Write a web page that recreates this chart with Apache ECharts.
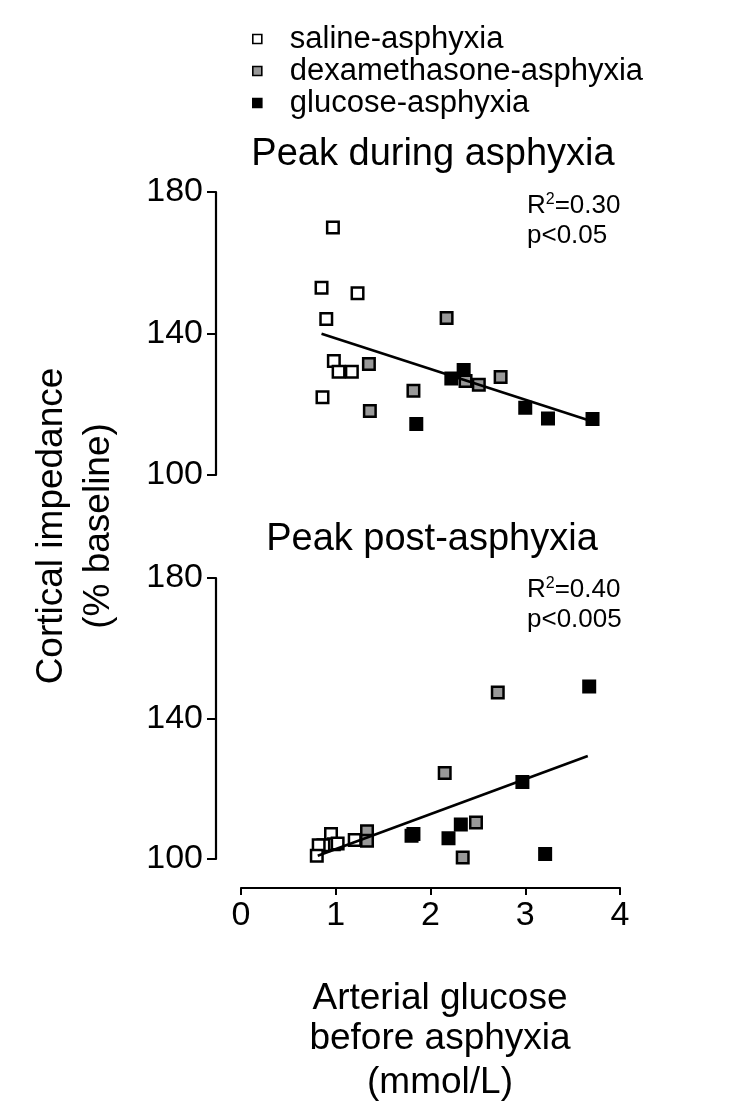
<!DOCTYPE html>
<html>
<head>
<meta charset="utf-8">
<script src="https://cdn.jsdelivr.net/npm/echarts@6/dist/echarts.min.js"></script>
<style>html,body{margin:0;padding:0;background:#fff}#c{width:732px;height:1113px}</style>
</head>
<body>
<div id="c"></div>
<script>
// ---- Data ----
const groupNames = ['saline-asphyxia', 'dexamethasone-asphyxia', 'glucose-asphyxia'];
const panelTitles = ['Peak during asphyxia', 'Peak post-asphyxia'];
const xTicks = [0, 1, 2, 3, 4];
const yTicks = [100, 140, 180];

// Panel 1: peak during asphyxia
const duringSalineX = [0.97, 0.85, 1.23, 0.90, 0.98, 1.03, 1.17, 0.86];
const duringSalineY = [170.0, 152.9, 151.4, 144.1, 132.2, 129.2, 129.2, 122.0];
const duringDexX = [2.17, 1.35, 2.74, 1.82, 1.36, 2.37, 2.51];
const duringDexY = [144.4, 131.4, 127.7, 123.8, 118.1, 126.6, 125.5];
const duringGluX = [1.85, 2.22, 2.35, 3.00, 3.24, 3.71];
const duringGluY = [114.4, 127.3, 129.7, 119.0, 116.0, 115.8];
const duringFitX = [0.85, 3.71];
const duringFitY = [139.9, 115.1];
const duringStats = ['0.30', 'p<0.05'];

// Panel 2: peak post-asphyxia
const postSalineX = [0.95, 0.98, 0.87, 0.82, 0.80, 1.20, 1.14, 1.02];
const postSalineY = [107.1, 104.2, 103.9, 103.9, 100.9, 105.4, 99.6, 104.4];
const postDexX = [2.71, 2.15, 2.48, 2.34, 1.80, 1.33, 1.33];
const postDexY = [147.4, 124.5, 110.4, 100.4, 106.6, 107.9, 105.2];
const postGluX = [3.675, 2.97, 2.32, 2.19, 1.82, 3.21];
const postGluY = [149.1, 121.9, 109.8, 105.9, 107.1, 101.4];
const postFitX = [0.81, 3.66];
const postFitY = [100.9, 129.3];
const postStats = ['0.40', 'p<0.005'];

const yTitleLines = ['Cortical impedance', '(% baseline)'];
const xTitleLines = ['Arterial glucose', 'before asphyxia', '(mmol/L)'];

// ---- Helpers ----
const FONT = 'Liberation Sans, Arial, Helvetica, sans-serif';
const fills = ['#ffffff', '#999999', '#000000'];
const zip = (xs, ys) => xs.map((x, i) => [x, ys[i]]);

const panels = [
  { groups: [[duringSalineX, duringSalineY], [duringDexX, duringDexY], [duringGluX, duringGluY]], fit: [duringFitX, duringFitY] },
  { groups: [[postSalineX, postSalineY], [postDexX, postDexY], [postGluX, postGluY]], fit: [postFitX, postFitY] }
];

const series = [];
panels.forEach((p, pi) => {
  p.groups.forEach((g, gi) => {
    series.push({
      type: 'scatter', name: groupNames[gi], xAxisIndex: pi, yAxisIndex: pi,
      symbol: 'rect', symbolSize: 11.5,
      itemStyle: { color: fills[gi], borderColor: '#000', borderWidth: 2.5, opacity: 1 },
      data: zip(g[0], g[1]), z: 2 + gi, silent: true
    });
  });
  series.push({
    type: 'line', xAxisIndex: pi, yAxisIndex: pi, symbol: 'none',
    lineStyle: { color: '#000', width: 2.6 }, data: zip(p.fit[0], p.fit[1]), z: 6, silent: true
  });
});

const yAxisCommon = (gi) => ({
  gridIndex: gi, type: 'value', min: yTicks[0], max: yTicks[yTicks.length - 1], interval: 40,
  offset: 25,
  axisLine: { show: true, onZero: false, lineStyle: { color: '#000', width: 2.2 } },
  axisTick: { show: true, inside: false, length: 9, lineStyle: { color: '#000', width: 2 } },
  axisLabel: { color: '#000', fontSize: 34, fontFamily: FONT, margin: 13 },
  splitLine: { show: false }
});

const statText = (stats) => '{n|R}{s|2}{n|=' + stats[0] + '}\n{n|' + stats[1] + '}';
const richStats = { n: { fontSize: 26, lineHeight: 30, fontFamily: FONT, fill: '#000' }, s: { fontSize: 16, fontFamily: FONT, fill: '#000', padding: [0, 0, 13, 0] } };

const option = {
  backgroundColor: '#fff',
  animation: false,
  textStyle: { fontFamily: FONT },
  grid: [
    { left: 241, right: 112, top: 192, height: 283 },
    { left: 241, right: 112, top: 578, height: 281 }
  ],
  xAxis: [
    { gridIndex: 0, type: 'value', min: 0, max: 4, interval: 1, show: false },
    { gridIndex: 1, type: 'value', min: 0, max: 4, interval: 1, offset: 29,
      axisLine: { show: true, onZero: false, lineStyle: { color: '#000', width: 2.2 } },
      axisTick: { show: true, inside: false, length: 7, lineStyle: { color: '#000', width: 2 } },
      axisLabel: { color: '#000', fontSize: 34, fontFamily: FONT, margin: 11,
        formatter: (v) => xTicks.includes(v) ? String(v) : '' },
      splitLine: { show: false } }
  ],
  yAxis: [yAxisCommon(0), yAxisCommon(1)],
  legend: {
    data: groupNames, orient: 'vertical', left: 247, top: 18, itemGap: 0,
    icon: 'rect', itemWidth: 9, itemHeight: 9,
    itemStyle: { borderColor: '#000', borderWidth: 1.6 },
    textStyle: { color: '#000', fontSize: 31, fontFamily: FONT, lineHeight: 32, padding: [0, 0, 0, 23] },
    selectedMode: false
  },
  graphic: [
    { type: 'text', x: 433, y: 155, style: { text: panelTitles[0], fontSize: 38, fontFamily: FONT, fill: '#000', align: 'center', verticalAlign: 'middle' } },
    { type: 'text', x: 432, y: 540, style: { text: panelTitles[1], fontSize: 38, fontFamily: FONT, fill: '#000', align: 'center', verticalAlign: 'middle' } },
    { type: 'text', x: 52, y: 526, rotation: Math.PI / 2, style: { text: yTitleLines[0], fontSize: 37, fontFamily: FONT, fill: '#000', align: 'center', verticalAlign: 'middle' } },
    { type: 'text', x: 99, y: 526, rotation: Math.PI / 2, style: { text: yTitleLines[1], fontSize: 37, fontFamily: FONT, fill: '#000', align: 'center', verticalAlign: 'middle' } },
    { type: 'text', x: 440, y: 999, style: { text: xTitleLines[0], fontSize: 37, fontFamily: FONT, fill: '#000', align: 'center', verticalAlign: 'middle' } },
    { type: 'text', x: 440, y: 1039, style: { text: xTitleLines[1], fontSize: 37, fontFamily: FONT, fill: '#000', align: 'center', verticalAlign: 'middle' } },
    { type: 'text', x: 440, y: 1083, style: { text: xTitleLines[2], fontSize: 37, fontFamily: FONT, fill: '#000', align: 'center', verticalAlign: 'middle' } },
    { type: 'text', x: 527, y: 191, style: { text: statText(duringStats), fontFamily: FONT, fill: '#000', align: 'left', verticalAlign: 'top', rich: richStats } },
    { type: 'text', x: 527, y: 575, style: { text: statText(postStats), fontFamily: FONT, fill: '#000', align: 'left', verticalAlign: 'top', rich: richStats } }
  ],
  series: series
};

const chart = echarts.init(document.getElementById('c'), null, { renderer: 'canvas' });
chart.setOption(option);
</script>
</body>
</html>
